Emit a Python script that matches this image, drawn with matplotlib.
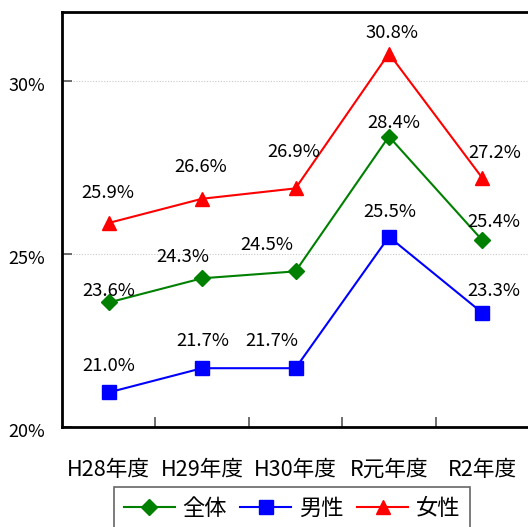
import matplotlib
matplotlib.use("Agg")
import matplotlib.pyplot as plt
from matplotlib.ticker import FixedLocator
from matplotlib.transforms import ScaledTranslation

plt.rcParams['font.family'] = ['Noto Sans CJK JP', 'DejaVu Sans']

categories = ["H28年度", "H29年度", "H30年度", "R元年度", "R2年度"]
series_names = ["全体", "男性", "女性"]
total = [23.6, 24.3, 24.5, 28.4, 25.4]
male = [21.0, 21.7, 21.7, 25.5, 23.3]
female = [25.9, 26.6, 26.9, 30.8, 27.2]
yticks = [20, 25, 30]
ytick_labels = ["20%", "25%", "30%"]

# label offsets in pixels (layout only)
label_offsets = {
    "全体": [(0, 12), (-19, 21), (-29, 26), (5, 14), (12, 18)],
    "男性": [(0, 26), (1, 27), (-24, 27), (1, 25), (12, 22)],
    "女性": [(-1, 30), (-1, 32), (-2, 36), (3, 21), (12, 25)],
}

fig = plt.figure(figsize=(5.28, 5.27), dpi=100)
ax = fig.add_axes([62/528, 1 - 427/527, 467/528, (427 - 12)/527])

x = list(range(len(categories)))
styles = [
    (total, "#008000", "D", 8, "全体"),
    (male, "#0000FF", "s", 10, "男性"),
    (female, "#FF0000", "^", 10, "女性"),
]
for vals, col, mk, ms, name in styles:
    ax.plot(x, vals, color=col, lw=1.5, marker=mk, markersize=ms,
            markerfacecolor=col, markeredgecolor=col, label=name, zorder=3)
    for i, v in enumerate(vals):
        dx, dy = label_offsets[name][i]
        ax.annotate(f"{v:.1f}%", (i, v), xytext=(dx * 0.72, dy * 0.72),
                    textcoords="offset points", ha="center", va="center",
                    fontsize=13.3, color="black", zorder=4)

ax.set_xlim(-0.5, len(categories) - 0.5)
ax.set_ylim(20, 32)
ax.set_yticks(yticks)
ax.set_yticklabels(ytick_labels, fontsize=13)
ax.yaxis.grid(True, color="#c8c8c8", linestyle=(0, (1, 1.5)), lw=0.8)
ax.set_axisbelow(True)
ax.tick_params(axis="y", direction="in", length=7, width=1.2, color="#555555", pad=12)

ax.set_xticks(x)
ax.set_xticklabels(categories, fontsize=15.6)
ax.tick_params(axis="x", which="major", length=0, pad=23)
ax.xaxis.set_minor_locator(FixedLocator([i + 0.5 for i in range(len(categories) - 1)]))
ax.tick_params(axis="x", which="minor", direction="in", length=7, width=1.2, color="#555555")

shift = ScaledTranslation(0, -3/100, fig.dpi_scale_trans)
for lbl in ax.get_yticklabels():
    lbl.set_transform(lbl.get_transform() + shift)

for s in ["left", "bottom", "top"]:
    ax.spines[s].set_linewidth(2)
    ax.spines[s].set_color("black")
ax.spines["right"].set_visible(False)

leg = fig.legend(loc="upper center", bbox_to_anchor=(292/528, 1 - 487/527), ncol=3,
                 fontsize=16, frameon=True, fancybox=False, handlelength=2.3,
                 columnspacing=0.6, handletextpad=0.35, borderpad=0.45,
                 borderaxespad=0)
leg.get_frame().set_edgecolor("#404040")
leg.get_frame().set_linewidth(1.2)

fig.savefig("out.png", dpi=100)
